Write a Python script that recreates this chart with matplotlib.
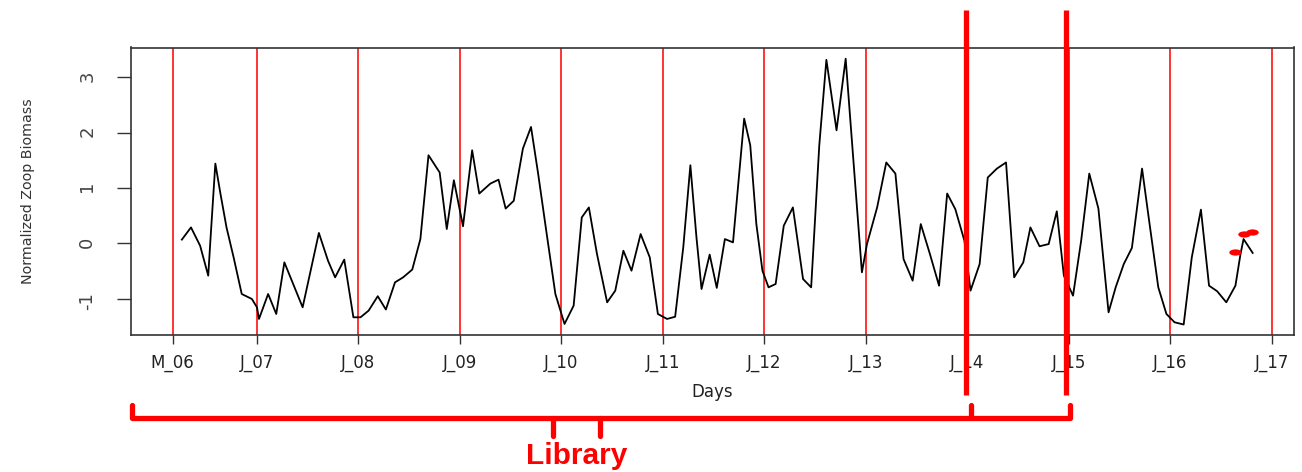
import matplotlib
matplotlib.use("Agg")
import matplotlib.pyplot as plt
import matplotlib.transforms as mtransforms
from matplotlib.markers import MarkerStyle
from matplotlib import font_manager
import numpy as np

plt.rcParams['axes.unicode_minus'] = False

# decimal years and normalized zooplankton biomass
years = [2006.26, 2006.35, 2006.44, 2006.52, 2006.54, 2006.59, 2006.64, 2006.70, 2006.77, 2006.85, 2006.95,
         2007.00, 2007.02, 2007.11, 2007.19, 2007.27, 2007.45, 2007.61, 2007.70, 2007.77, 2007.86, 2007.95,
         2008.02, 2008.10, 2008.19, 2008.27, 2008.36, 2008.44, 2008.53, 2008.61, 2008.69, 2008.80, 2008.87, 2008.94,
         2009.03, 2009.12, 2009.19, 2009.30, 2009.38, 2009.45, 2009.53, 2009.62, 2009.70, 2009.77, 2009.85, 2009.94,
         2010.03, 2010.12, 2010.20, 2010.27, 2010.35, 2010.45, 2010.53, 2010.61, 2010.69, 2010.78, 2010.87, 2010.95,
         2011.04, 2011.12, 2011.20, 2011.27, 2011.33, 2011.38, 2011.46, 2011.53, 2011.61, 2011.69, 2011.80, 2011.86,
         2011.92, 2011.98,
         2012.04, 2012.11, 2012.19, 2012.28, 2012.38, 2012.46, 2012.54, 2012.61, 2012.71, 2012.80, 2012.96,
         2013.01, 2013.11, 2013.20, 2013.29, 2013.37, 2013.46, 2013.54, 2013.63, 2013.72, 2013.80, 2013.88, 2013.97,
         2014.03, 2014.12, 2014.20, 2014.29, 2014.38, 2014.46, 2014.55, 2014.62, 2014.71, 2014.80, 2014.88, 2014.95,
         2015.04, 2015.12, 2015.20, 2015.29, 2015.39, 2015.46, 2015.54, 2015.62, 2015.72, 2015.78, 2015.88, 2015.96,
         2016.04, 2016.13, 2016.21, 2016.30, 2016.38, 2016.46, 2016.55, 2016.64, 2016.69, 2016.72, 2016.81]
biomass = [0.07, 0.29, -0.04, -0.58, 0.02, 1.44, 0.90, 0.29, -0.25, -0.91, -1.00,
           -1.15, -1.36, -0.91, -1.27, -0.34, -1.15, 0.19, -0.31, -0.61, -0.29, -1.33,
           -1.33, -1.21, -0.95, -1.19, -0.70, -0.61, -0.47, 0.08, 1.59, 1.28, 0.26, 1.14,
           0.31, 1.68, 0.90, 1.08, 1.15, 0.63, 0.77, 1.71, 2.10, 1.26, 0.23, -0.91,
           -1.45, -1.12, 0.47, 0.65, -0.19, -1.06, -0.85, -0.13, -0.49, 0.17, -0.25, -1.27,
           -1.36, -1.32, -0.07, 1.41, 0.11, -0.82, -0.20, -0.80, 0.08, 0.02, 2.25, 1.77,
           0.35, -0.49,
           -0.79, -0.73, 0.32, 0.65, -0.64, -0.79, 1.77, 3.31, 2.04, 3.33, -0.52,
           -0.01, 0.65, 1.46, 1.26, -0.28, -0.67, 0.35, -0.19, -0.76, 0.90, 0.62, 0.05,
           -0.85, -0.37, 1.19, 1.35, 1.46, -0.61, -0.34, 0.29, -0.05, -0.01, 0.58, -0.58,
           -0.94, 0.05, 1.26, 0.63, -1.24, -0.79, -0.37, -0.08, 1.35, 0.54, -0.79, -1.27,
           -1.42, -1.46, -0.25, 0.61, -0.76, -0.86, -1.06, -0.76, -0.19, 0.08, -0.17]

# red highlighted points at the end of the series
dot_years = [2016.64, 2016.72, 2016.80]
dot_values = [-0.16, 0.17, 0.20]

tick_years = [2006.17, 2007, 2008, 2009, 2010, 2011, 2012, 2013, 2014, 2015, 2016, 2017]
tick_labels = ['M_06', 'J_07', 'J_08', 'J_09', 'J_10', 'J_11', 'J_12', 'J_13', 'J_14', 'J_15', 'J_16', 'J_17']
y_ticks = [-1, 0, 1, 2, 3]

# hand-drawn annotation: split lines, bracket and its "Library" marks (in years)
split_years = [2013.985, 2014.97]
bracket_years = [2005.77, 2014.03, 2015.01]
library_marks = [2009.92, 2010.38]

names = {f.name for f in font_manager.fontManager.ttflist}
if 'Liberation Sans Narrow' in names:
    ylab_font, ylab_size = 'Liberation Sans Narrow', 11.8
else:
    ylab_font, ylab_size = 'DejaVu Sans', 10.3

fig = plt.figure(figsize=(13.02, 4.72), dpi=100)
ax = fig.add_axes([131 / 1302, 1 - 335 / 472, 1163 / 1302, 287.5 / 472])

for x in tick_years:
    ax.axvline(x, color='#ff1010', lw=1.2, zorder=1)
ax.plot(years, biomass, color='black', lw=1.3, zorder=2)
ell = MarkerStyle('o', transform=mtransforms.Affine2D().scale(2.0, 1.0))
ax.plot(dot_years, dot_values, ls='none', marker=ell, ms=4.5, color='red',
        markeredgewidth=0, zorder=3)

ax.set_xlim(2005.759, 2017.217)
ax.set_ylim(-1.649, 3.532)
ax.set_xticks(tick_years)
ax.set_xticklabels(tick_labels)
ax.set_yticks(y_ticks)
ax.tick_params(axis='x', length=6.5, width=1, pad=7.5, labelsize=12, labelcolor='#222222', color='#333333')
ax.tick_params(axis='y', length=10, width=1, pad=15, labelsize=13, labelcolor='#444444', color='#333333')
for lbl in ax.get_yticklabels():
    lbl.set_rotation(90)
for s in ax.spines.values():
    s.set_color('#333333')
    s.set_linewidth(1.2)

ax.set_xlabel('Days', fontsize=12, color='#222222')
ax.xaxis.set_label_coords(0.5, -0.168)
ax.set_ylabel('Normalized Zoop Biomass', family=[ylab_font, 'DejaVu Sans'], fontsize=ylab_size, color='#333333')
ax.yaxis.set_label_coords(-0.0825, 0.5)

# annotation layer: x in data years, y in figure fraction
trans = mtransforms.blended_transform_factory(ax.transData, fig.transFigure)
kw = dict(color='red', lw=3.8, transform=trans, clip_on=False,
          solid_capstyle='round', solid_joinstyle='round', zorder=5)
for x in split_years:
    ax.plot([x, x], [0.163, 0.979], **{**kw, 'solid_capstyle': 'butt'})
y_top, y_bar, y_low = 0.142, 0.1144, 0.0763
ax.plot([bracket_years[0], bracket_years[0], bracket_years[2], bracket_years[2]],
        [y_top, y_bar, y_bar, y_top], **kw)
ax.plot([bracket_years[1], bracket_years[1]], [y_top, y_bar], **kw)
for x in library_marks:
    ax.plot([x, x], [y_bar, y_low], **kw)
ax.text(np.mean(library_marks), 0.017, 'Library', transform=trans, ha='center', va='baseline',
        color='red', fontsize=21.5, fontweight='bold', family=['Liberation Sans', 'DejaVu Sans'])

fig.savefig('out.png', dpi=100)
